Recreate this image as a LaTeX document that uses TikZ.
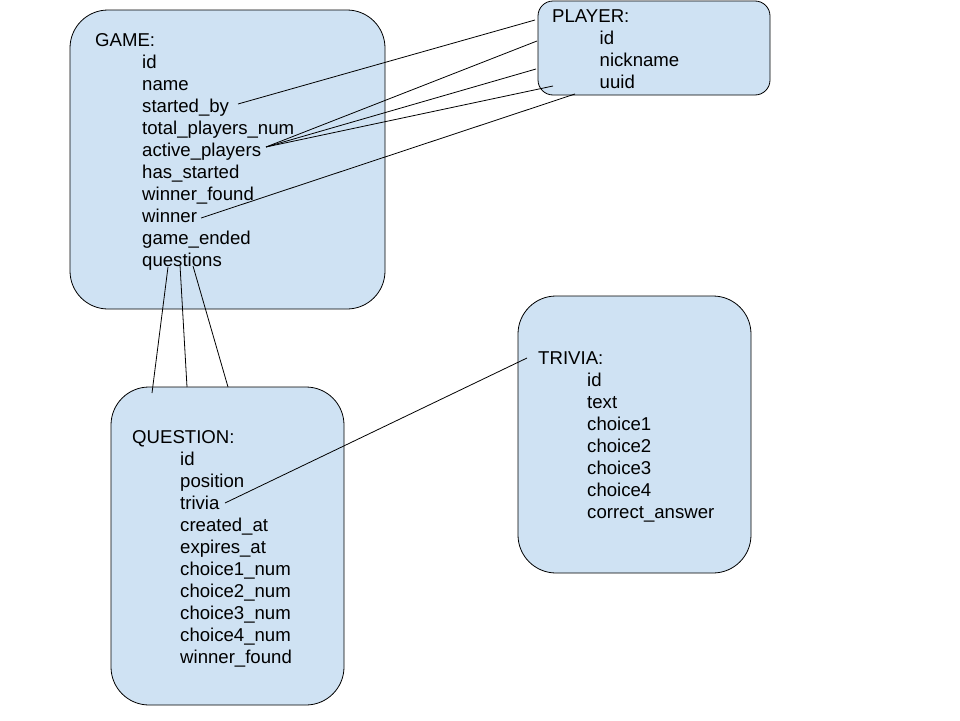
\documentclass[tikz,border=0pt]{standalone}
\usepackage{fontspec}
\setmainfont{Liberation Sans}
\begin{document}
\begin{tikzpicture}[x=1pt,y=-1pt,
  entity/.style={draw=black, line width=0.8pt, fill=boxblue, rounded corners=38pt, inner sep=0pt},
  field/.style={anchor=base west, inner sep=0pt, font=\fontsize{18.6}{22}\selectfont},
  link/.style={draw=black, line width=0.8pt}]
\definecolor{boxblue}{HTML}{CFE2F3}
\useasboundingbox[fill=white] (0,0) rectangle (960,720);

% entity boxes
\node[entity, minimum width=315pt, minimum height=299pt] (game) at (227.5,159.5) {};
\node[entity, rounded corners=15pt, minimum width=232pt, minimum height=94pt] (player) at (654,48) {};
\node[entity, minimum width=233pt, minimum height=318pt] (question) at (227.5,546) {};
\node[entity, minimum width=233pt, minimum height=277pt] (trivia) at (634.5,434.5) {};

% GAME fields
\node[field] (gtitle) at (95,46.5) {GAME:};
\foreach \t [count=\i] in {id,name,started\_by,total\_players\_num,active\_players,has\_started,winner\_found,winner,game\_ended,questions}
  \node[field] (g\i) at (142,46.5+22*\i) {\t};

% PLAYER fields
\node[field] (ptitle) at (552,22.5) {PLAYER:};
\foreach \t [count=\i] in {id,nickname,uuid}
  \node[field] (p\i) at (599.5,22.5+22*\i) {\t};

% QUESTION fields
\node[field] (qtitle) at (132,443.5) {QUESTION:};
\foreach \t [count=\i] in {id,position,trivia,created\_at,expires\_at,choice1\_num,choice2\_num,choice3\_num,choice4\_num,winner\_found}
  \node[field] (q\i) at (180,443.5+22*\i) {\t};

% TRIVIA fields
\node[field] (ttitle) at (538,364.5) {TRIVIA:};
\foreach \t [count=\i] in {id,text,choice1,choice2,choice3,choice4,correct\_answer}
  \node[field] (t\i) at (587,364.5+22*\i) {\t};

% connector end points
\coordinate (startedby) at (238,104);
\coordinate (activeplayers) at (266,147);
\coordinate (winnerend) at (201,218);
\coordinate (pa) at (535,20);
\coordinate (pb) at (537,41);
\coordinate (pc) at (536,69);
\coordinate (pd) at (553,86);
\coordinate (pe) at (575,94);
\coordinate (qsa) at (168,267);
\coordinate (qsb) at (180,265);
\coordinate (qsc) at (193,266);
\coordinate (qta) at (152,393);
\coordinate (qtb) at (187,387);
\coordinate (qtc) at (228,387);
\coordinate (triviaref) at (225,503);
\coordinate (triviatitle) at (527,358);

% GAME -- PLAYER
\draw[link] (startedby) -- (pa);
\draw[link] (activeplayers) -- (pb);
\draw[link] (activeplayers) -- (pc);
\draw[link] (activeplayers) -- (pd);
\draw[link] (winnerend) -- (pe);

% GAME -- QUESTION
\draw[link] (qsa) -- (qta);
\draw[link] (qsb) -- (qtb);
\draw[link] (qsc) -- (qtc);

% QUESTION -- TRIVIA
\draw[link] (triviaref) -- (triviatitle);
\end{tikzpicture}
\end{document}
